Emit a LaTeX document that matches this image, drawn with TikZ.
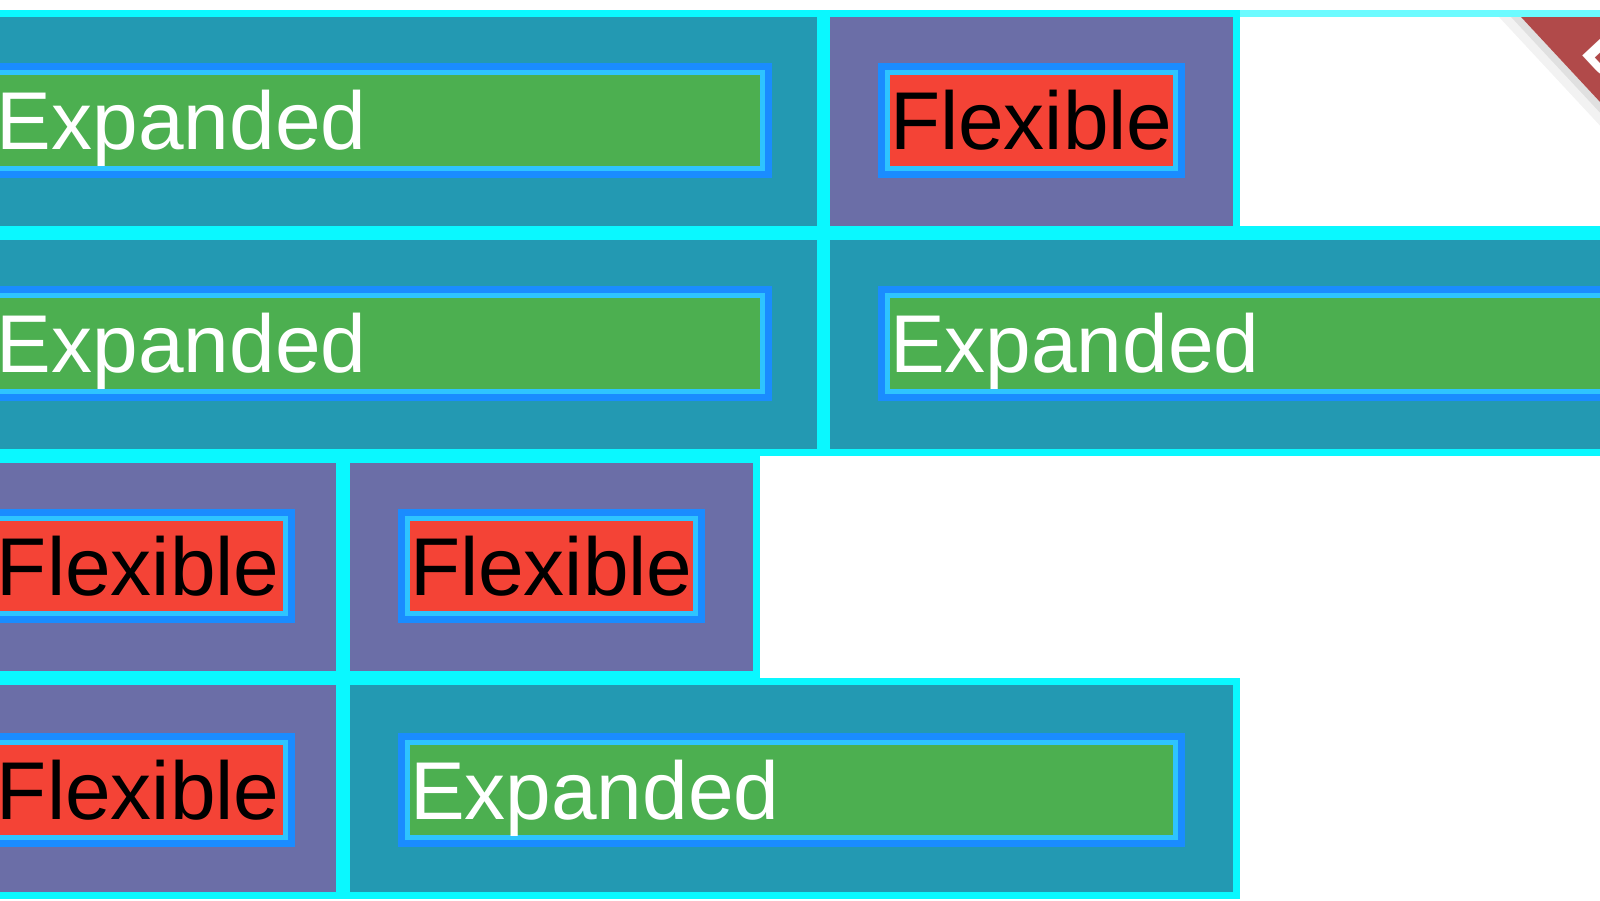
\documentclass[tikz,border=0pt]{standalone}
\usepackage{fontspec}
\setmainfont{Liberation Sans}
\definecolor{cellteal}{HTML}{2399B2}
\definecolor{cellpurple}{HTML}{6B6EA7}
\definecolor{boxgreen}{HTML}{4CAF50}
\definecolor{boxred}{HTML}{F44336}
\definecolor{linecyan}{HTML}{0AF8FF}
\definecolor{boxblue}{HTML}{1A8CFF}
\definecolor{boxlight}{HTML}{2EC4FF}
\definecolor{bannerred}{HTML}{B14A4A}
\newcommand\mycell[5]{%
  \fill[linecyan] (#1-7,#2-7) rectangle (#3+7,#4+7);
  \fill[#5] (#1,#2) rectangle (#3,#4);}
\newcommand\mybox[8]{%
  \fill[boxblue] (#1-12,#2-12) rectangle (#3+12,#4+12);
  \fill[boxlight] (#1-5,#2-5) rectangle (#3+5,#4+5);
  \fill[#5] (#1,#2) rectangle (#3,#4);
  \node[lbl, text=#8] (#6) at (#1,#2+74) {#7};}
\tikzset{lbl/.style={anchor=base west, inner sep=0pt, outer sep=0pt, font=\fontsize{82}{90}\selectfont}}
\begin{document}
\begin{tikzpicture}[x=1pt,y=-1pt]
\useasboundingbox (0,0) rectangle (1600,900);
\clip (0,0) rectangle (1600,900);
\fill[white] (0,0) rectangle (1600,900);
% full-width lines at the top and between rows 1 and 2
\fill[linecyan!60] (0,10) rectangle (1600,17);
\fill[linecyan] (0,226) rectangle (1600,240);
% row 1
\mycell{-100}{17}{817}{226}{cellteal}
\mycell{830}{17}{1233}{226}{cellpurple}
% row 2
\mycell{-100}{240}{817}{449}{cellteal}
\mycell{830}{240}{1700}{449}{cellteal}
% row 3
\mycell{-100}{463}{336}{671}{cellpurple}
\mycell{350}{463}{753}{671}{cellpurple}
% row 4
\mycell{-100}{685}{336}{892}{cellpurple}
\mycell{350}{685}{1233}{892}{cellteal}
% boxes
\mybox{-3}{75}{760}{166}{boxgreen}{e1}{Expanded}{white}
\mybox{890}{75}{1173}{166}{boxred}{f1}{Flexible}{black}
\mybox{-3}{298}{760}{389}{boxgreen}{e2}{Expanded}{white}
\mybox{890}{298}{1700}{389}{boxgreen}{e3}{Expanded}{white}
\mybox{-3}{521}{283}{611}{boxred}{f2}{Flexible}{black}
\mybox{410}{521}{693}{611}{boxred}{f3}{Flexible}{black}
\mybox{-3}{745}{283}{835}{boxred}{f4}{Flexible}{black}
\mybox{410}{745}{1173}{835}{boxgreen}{e4}{Expanded}{white}
% debug banner (corner)
\fill[black, opacity=0.05] (1499,17) -- (1521,17) -- (1521+0.93*250,267) -- (1499+0.93*250,267) -- cycle;
\fill[black, opacity=0.07] (1511,17) -- (1521,17) -- (1521+0.93*250,267) -- (1511+0.93*250,267) -- cycle;
\fill[bannerred] (1521,17) -- (1660,17) -- (1660+0.93*250,267) -- (1521+0.93*250,267) -- cycle;
\node[anchor=west, rotate=-47, inner sep=0pt, text=white, font=\bfseries\fontsize{70}{70}\selectfont] (dbg) at (1597,36) {DEBUG};
\end{tikzpicture}
\end{document}
